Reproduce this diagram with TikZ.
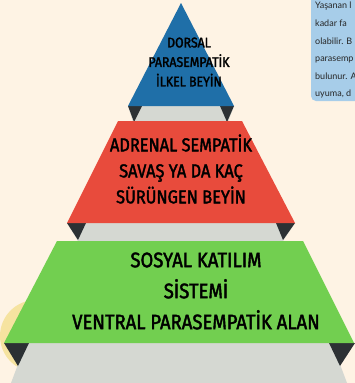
\documentclass[tikz,border=0pt]{standalone}
\usepackage{fontspec}
\newfontfamily\dispfont[FakeStretch=0.88,FakeBold=2]{Fira Sans}
\newfontfamily\smallfont{Lato}
\definecolor{bgc}{HTML}{FEF3E4}
\definecolor{blueL}{HTML}{1F6FA8}
\definecolor{redL}{HTML}{E84B3C}
\definecolor{greenL}{HTML}{72CF50}
\definecolor{grayL}{HTML}{D5D8D2}
\definecolor{darkL}{HTML}{2C3134}
\definecolor{boxL}{HTML}{A7CDE9}
\definecolor{yelL}{HTML}{F6E3A0}
\tikzset{
  band/.style={fill=grayL,draw=none},
  tip/.style={fill=darkL,draw=none},
  lbl/.style={align=center,text=black,inner sep=0pt},
  side/.style={anchor=base west,inner sep=0pt,text=black!85,font=\smallfont\fontsize{9}{10}\selectfont}
}
\begin{document}
\begin{tikzpicture}[x=1pt,y=-1pt]
\useasboundingbox (0,0) rectangle (355,383);
\fill[bgc] (0,0) rectangle (355,383);
% yellow circle
\fill[yelL] (36,336) circle (36);
% bottom grey band and tips
\fill[band] (26,343) -- (332,343) -- (347,383) -- (11,383) -- cycle;
\fill[tip] (4,343) -- (29,343) -- (18,366) -- cycle;
\fill[tip] (329,343) -- (355,343) -- (340,366) -- cycle;
% middle grey band
\fill[band] (67,223) -- (295,223) -- (283,241) -- (78,241) -- cycle;
\fill[tip] (67,223) -- (86,223) -- (78,240) -- cycle;
\fill[tip] (276,223) -- (295,223) -- (283,240) -- cycle;
% top grey band
\fill[band] (128,106) -- (234,106) -- (228,122) -- (133,122) -- cycle;
\fill[tip] (128,106) -- (142,106) -- (134,122) -- cycle;
\fill[tip] (220,106) -- (234,106) -- (227,122) -- cycle;
% layers
\fill[blueL] (181,3) -- (234,106) -- (128,106) -- cycle;
\fill[redL] (118,121) -- (242,121) -- (295,223) -- (67,223) -- cycle;
\fill[greenL] (57,241) -- (303,241) -- (354,343) -- (4,343) -- cycle;
% labels
\node[lbl,font=\dispfont\fontsize{14}{19.5}\selectfont] (top) at (189,62) {DORSAL\\PARASEMPATİK\\İLKEL BEYİN};
\node[lbl,font=\dispfont\fontsize{18.6}{26}\selectfont] (mid) at (181,169) {ADRENAL SEMPATİK\\SAVAŞ YA DA KAÇ\\SÜRÜNGEN BEYİN};
\node[lbl,font=\dispfont\fontsize{21}{31}\selectfont] (bot) at (196,291) {SOSYAL KATILIM\\SİSTEMİ\\VENTRAL PARASEMPATİK ALAN};
% side box
\begin{scope}
\clip (0,0) rectangle (355,383);
\fill[boxL,rounded corners=5pt] (311,-10) rectangle (370,101);
\node[side] (s1) at (315,8) {Yaşanan l};
\node[side] (s2) at (315,26) {kadar fa};
\node[side] (s3) at (315,44) {olabilir. B};
\node[side] (s4) at (315,61) {parasemp};
\node[side] (s5) at (315,79) {bulunur. A};
\node[side] (s6) at (315,96) {uyuma, d};
\end{scope}
\end{tikzpicture}
\end{document}
